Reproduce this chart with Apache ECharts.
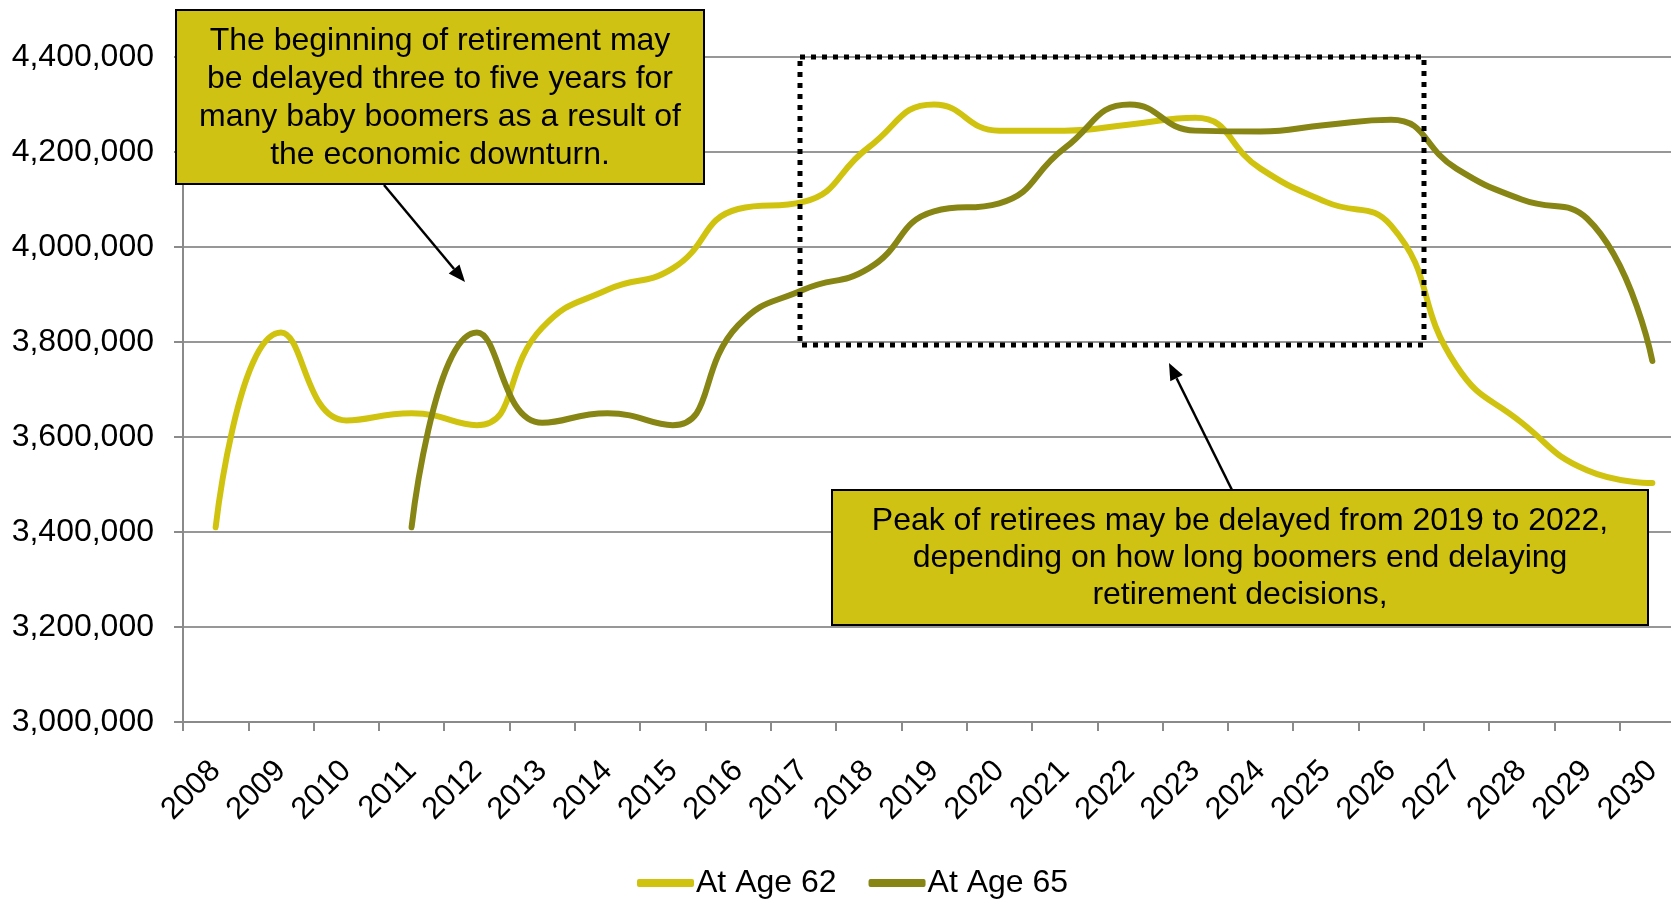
<!DOCTYPE html>
<html>
<head>
<meta charset="utf-8">
<script src="https://cdn.jsdelivr.net/npm/echarts@6.0.0/dist/echarts.min.js"></script>
<style>
  html, body { margin: 0; padding: 0; background: #fff; }
  #chart { width: 1671px; height: 899px; }
</style>
</head>
<body>
<div id="chart"></div>
<script>
// data
const years = ["2008", "2009", "2010", "2011", "2012", "2013", "2014", "2015", "2016", "2017", "2018",
  "2019", "2020", "2021", "2022", "2023", "2024", "2025", "2026", "2027", "2028", "2029", "2030"];
const age62 = [3410000, 3820000, 3635000, 3650000, 3625000, 3830000, 3910000, 3955000, 4080000, 4095000, 4210000,
  4300000, 4245000, 4245000, 4258000, 4272000, 4165000, 4095000, 4045000, 3750000, 3630000, 3530000, 3503000];
const age65 = [null, null, null, 3410000, 3820000, 3630000, 3650000, 3625000, 3835000, 3910000, 3955000,
  4075000, 4092000, 4208000, 4300000, 4245000, 4243000, 4257000, 4268000, 4165000, 4100000, 4060000, 3760000];
const seriesNames = ["At Age 62", "At Age 65"];
const yTicks = [3000000, 3200000, 3400000, 3600000, 3800000, 4000000, 4200000, 4400000];

const note1 = ["The beginning of retirement may", "be delayed three to five years for",
  "many baby boomers as a result of", "the economic downturn."];
const note2 = ["Peak of retirees may be delayed from 2019 to 2022,",
  "depending on how long boomers end delaying", "retirement decisions,"];

const FONT = '"Liberation Sans", Arial, sans-serif';
const YELLOW = "#D0C30F";
const OLIVE = "#878513";
const BOX = "#CFC213";

// arrow = line + filled head
function arrow(x1, y1, x2, y2) {
  const dx = x2 - x1, dy = y2 - y1;
  const len = Math.sqrt(dx * dx + dy * dy);
  const ux = dx / len, uy = dy / len;
  const hl = 17, hw = 7;
  const bx = x2 - ux * hl, by = y2 - uy * hl;
  return [
    { type: "line", z: 100, shape: { x1: x1, y1: y1, x2: bx, y2: by }, style: { stroke: "#000", lineWidth: 2.5 } },
    {
      type: "polygon", z: 100,
      shape: { points: [[x2, y2], [bx - uy * hw, by + ux * hw], [bx + uy * hw, by - ux * hw]] },
      style: { fill: "#000" },
    },
  ];
}

function noteBox(x, y, w, h, lines, lh) {
  return [
    { type: "rect", z: 100, shape: { x: x, y: y, width: w, height: h }, style: { fill: BOX, stroke: "#000", lineWidth: 2 } },
    {
      type: "text", z: 101,
      style: {
        text: lines.join("\n"), x: x + w / 2, y: y + h / 2 + 1, align: "center", verticalAlign: "middle",
        font: "32px " + FONT, lineHeight: lh, fill: "#000",
      },
    },
  ];
}

const chart = echarts.init(document.getElementById("chart"));

chart.setOption({
  animation: false,
  textStyle: { fontFamily: FONT },
  // plot runs a little past the right edge of the picture, as in the original
  grid: { left: 183, right: -14, top: 57, bottom: 177, outerBoundsMode: "none", containLabel: false },
  xAxis: {
    type: "category",
    data: years,
    boundaryGap: true,
    axisLine: { show: true, lineStyle: { color: "#8a8a8a", width: 2 } },
    axisTick: { show: true, length: 9, lineStyle: { color: "#8a8a8a", width: 2 } },
    axisLabel: { rotate: 45, fontSize: 31, color: "#000", margin: 44, interval: 0, fontFamily: FONT },
    splitLine: { show: false },
  },
  yAxis: {
    type: "value",
    min: yTicks[0],
    max: yTicks[yTicks.length - 1],
    interval: yTicks[1] - yTicks[0],
    axisLine: { show: true, lineStyle: { color: "#8a8a8a", width: 2 } },
    axisTick: { show: true, length: 9, lineStyle: { color: "#8a8a8a", width: 2 } },
    axisLabel: {
      fontSize: 32, color: "#000", margin: 29, fontFamily: FONT,
      formatter: (v) => v.toLocaleString("en-US"),
    },
    splitLine: { show: true, lineStyle: { color: "#979797", width: 2 } },
  },
  legend: {
    data: seriesNames,
    left: 632,
    top: 862,
    icon: "roundRect",
    itemWidth: 57,
    itemHeight: 8,
    itemGap: 32,
    textStyle: { fontSize: 32, color: "#000", fontFamily: FONT, padding: [0, 0, 0, -3] },
  },
  series: [
    {
      name: seriesNames[0], type: "line", data: age62, smooth: 0.5, symbol: "none",
      itemStyle: { color: YELLOW },
      lineStyle: { color: YELLOW, width: 6, cap: "round" },
    },
    {
      name: seriesNames[1], type: "line", data: age65, smooth: 0.5, symbol: "none",
      itemStyle: { color: OLIVE },
      lineStyle: { color: OLIVE, width: 6, cap: "round" },
    },
  ],
  graphic: [
    // dotted frame round the peak years
    {
      type: "rect", z: 100,
      shape: { x: 800, y: 57, width: 624, height: 288 },
      style: { fill: null, stroke: "#000", lineWidth: 5, lineDash: [5, 6] },
    },
    ...noteBox(176, 10, 528, 174, note1, 38),
    ...arrow(384, 185, 465, 282),
    ...noteBox(832, 490, 816, 135, note2, 37),
    ...arrow(1232, 490, 1169, 363),
  ],
});
</script>
</body>
</html>
